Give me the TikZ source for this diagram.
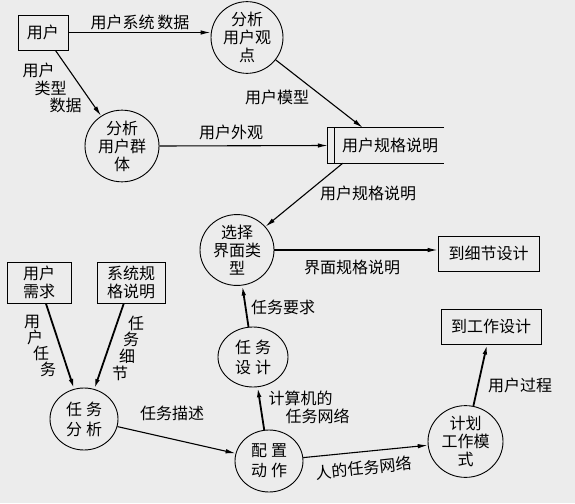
\documentclass[tikz,border=0pt]{standalone}
\usepackage{fontspec}
\setmainfont{Noto Sans CJK SC}
\usetikzlibrary{arrows.meta,calc,shapes.geometric}
\definecolor{paper}{RGB}{236,236,236}

\tikzset{
  proc/.style={ellipse,draw,line width=0.9pt,minimum width=72pt,minimum height=64pt,
    inner sep=0pt,align=center,font=\fontsize{16}{18}\selectfont},
  proctwo/.style={proc,font=\fontsize{16}{20}\selectfont},
  ext/.style={rectangle,draw,line width=0.9pt,align=center,inner sep=0pt},
  flow/.style={-{Latex[length=10pt,width=4.5pt]},line width=1.1pt},
  heavy/.style={flow,line width=1.8pt},
  lbl/.style={inner sep=0pt,align=center}
}
\newcommand{\gap}{\hspace{4pt}}

\begin{document}
\begin{tikzpicture}[x=1pt,y=-1pt,font=\fontsize{16}{18}\selectfont]
  \fill[paper] (0,0) rectangle (575,503);
  \useasboundingbox (0,0) rectangle (575,503);

  % upper part
  \node[ext,minimum width=50pt,minimum height=35pt] (user) at (43,32.5) {用户};
  \node[proc] (uv) at (247,37.5) {分析\\用户观\\点};
  \node[proc,minimum width=74pt,minimum height=62pt] (ug) at (122,146) {分析\\用户群\\体};
  \node[minimum width=116pt,minimum height=35pt,inner sep=0pt] (ds) at (386,145.5) {\hspace{8pt}用户规格说明};
  \draw[line width=0.9pt] (ds.north east) -- (ds.north west) -- (ds.south west) -- (ds.south east);
  \draw[line width=0.9pt] ($(ds.north west)+(7,0)$) -- ($(ds.south west)+(7,0)$);
  \coordinate (dsin) at ($(ds.north west)+(35,0)$);
  \coordinate (dsout) at ($(ds.south west)+(15,0)$);

  \node[proc,minimum width=74pt,minimum height=66pt] (sel) at (237,250) {选择\\界面类\\型};
  \node[ext,minimum width=101pt,minimum height=35pt] (d1) at (488.5,253.5) {到细节设计};
  \node[ext,minimum width=100pt,minimum height=35pt] (d2) at (491,326.5) {到工作设计};

  % lower part
  \node[ext,minimum width=64pt,minimum height=41pt] (rq) at (39,282.5) {用户\\需求};
  \node[ext,minimum width=68pt,minimum height=41pt] (ss) at (131,282.5) {系统规\\格说明};
  \node[proctwo,minimum width=68pt,minimum height=62pt] (ta) at (84,419) {任\gap 务\\分\gap 析};
  \node[proctwo,minimum width=68pt,minimum height=62pt] (cf) at (269,461) {配\gap 置\\动\gap 作};
  \node[proctwo,minimum width=70pt,minimum height=60pt] (td) at (253,357) {任\gap 务\\设\gap 计};
  \node[proc,minimum width=75pt,minimum height=63pt] (pw) at (465.5,441.5) {计划\\工作模\\式};

  % flows
  \draw[flow] (user.east) -- (user.east -| uv.west);
  \draw[flow] (user) -- (ug);
  \draw[flow] (uv) -- (dsin);
  \draw[flow] (ug.east) -- (ds.west);
  \draw[flow] (dsout) -- (sel);
  \draw[flow] (sel.east) -- (sel.east -| d1.west);
  \draw[heavy] (rq) -- (ta);
  \draw[heavy] (ss) -- (ta);
  \draw[flow] (ta) -- (cf);
  \draw[heavy] (cf) -- (td);
  \draw[heavy] (td) -- (sel);
  \draw[flow] (cf) -- (pw);
  \draw[heavy] (pw) -- (d2);

  % labels
  \node[lbl] (l1) at (140,22) {用户系统\,数据};
  \node[lbl,align=left,font=\fontsize{16}{17.5}\selectfont] (l2) at (52,88)
    {用户\\\hspace{12pt}类型\\\hspace{27pt}数据};
  \node[lbl] (l3) at (277,97) {用户模型};
  \node[lbl] (l4) at (231,132) {用户外观};
  \node[lbl] (l5) at (368,193) {用户规格说明};
  \node[lbl] (l6) at (352,267) {界面规格说明};
  \node[lbl] (l7) at (283,307) {任务要求};
  \node[lbl,align=left,font=\fontsize{16}{16}\selectfont] (l8) at (40,346)
    {用\\\hspace{3pt}户\\\hspace{9pt}任\\\hspace{16pt}务};
  \node[lbl,align=left,font=\fontsize{16}{16.7}\selectfont] (l9) at (128,348)
    {\hspace{16pt}任\\\hspace{11pt}务\\\hspace{7pt}细\\节};
  \node[lbl] (l10) at (172,413) {任务描述};
  \node[lbl,align=left] (l11) at (309,407) {计算机的\\\hspace{17pt}任务网络};
  \node[lbl,rotate=6] (l12) at (364,468) {人的任务网络};
  \node[lbl] (l13) at (520,385) {用户过程};
\end{tikzpicture}
\end{document}
